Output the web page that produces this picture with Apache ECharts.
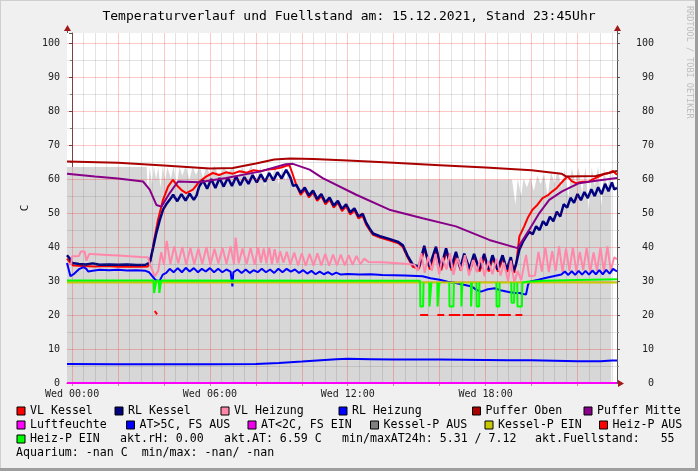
<!DOCTYPE html>
<html><head><meta charset="utf-8">
<script src="https://cdn.jsdelivr.net/npm/echarts@6/dist/echarts.min.js"></script>
<style>html,body{margin:0;padding:0;background:#f0f0f0}#c{width:698px;height:471px}</style>
</head><body><div id="c"></div>
<script>
const FONT = 'DejaVu Sans Mono';
const titleText = 'Temperaturverlauf und Fuellstand am: 15.12.2021, Stand 23:45Uhr';
const xLabelHours = [0, 6, 12, 18];
const xMin = -0.22, xMax = 23.72;

// [hour, value] series
const fillArea = [[-0.22,63.6],[3.25,63.6],[3.3,56],[3.38,63.5],[3.48,58.5],[3.56,63.8],[3.66,60],[3.75,63.5],[3.85,57.5],[3.95,63.9],[4.05,59.5],[4.15,63.4],[4.3,60.2],[4.42,63.8],[4.55,58.2],[4.68,63.5],[4.8,61],[4.95,63.9],[5.1,59.8],[5.25,63.6],[5.4,61.2],[5.55,63.8],[5.7,60.4],[5.85,63.5],[6.0,61.5],[6.2,63.9],[6.4,60.5],[6.6,63.4],[6.8,61.8],[7.0,63.8],[7.2,60],[7.4,63.5],[7.6,61.5],[7.8,63.9],[8.0,59.5],[8.2,63.6],[8.4,57.8],[8.55,63.2],[8.7,60.5],[8.85,63.6],[9.0,58.5],[9.15,63.2],[9.3,59.5],[9.45,62.5],[9.6,60.0],[19.0,59.8],[19.15,59.9],[19.3,52.5],[19.4,60],[19.55,55],[19.65,60.2],[19.8,57.5],[19.95,60.5],[20.1,56.5],[20.25,61],[20.4,58.5],[20.55,61.5],[20.7,55],[20.85,62],[21.0,58.8],[21.15,62.5],[21.3,57.5],[21.45,63],[21.6,54.5],[21.75,63.2],[21.9,59],[22.05,63.5],[22.2,55.8],[22.35,63.6],[22.5,50.5],[22.62,63.5],[22.75,58],[22.9,63.8],[23.05,52],[23.15,63.5],[23.3,57],[23.47,63.5]];

const vlKessel = [[-0.22,36.6],[-0.1,35.6],[0.05,34.6],[0.5,34.4],[1,34.3],[1.5,34.4],[2,34.2],[2.5,34.3],[3,34.2],[3.3,34.3],[3.42,36.0],[3.55,41.2],[3.74,48.0],[3.96,53.9],[4.18,57.8],[4.39,59.8],[4.61,57.8],[4.8,56.6],[4.97,55.9],[5.26,56.9],[5.55,59.3],[5.85,60.8],[6.13,61.8],[6.4,61.2],[6.7,62.0],[7.0,61.6],[7.3,62.3],[7.6,61.9],[7.9,62.6],[8.2,62.3],[8.5,62.8],[8.8,63.0],[9.1,63.4],[9.46,64.2],[9.6,61.5],[9.75,58.5],[9.95,55.4],[10.13,56.9],[10.31,54.6],[10.49,56.0],[10.67,53.6],[10.85,55.0],[11.03,52.6],[11.21,54.0],[11.39,51.6],[11.57,53.0],[11.75,50.6],[11.93,52.0],[12.11,49.6],[12.29,50.8],[12.47,48.4],[12.65,49.2],[12.8,46.6],[12.95,45.0],[13.1,43.6],[13.4,42.8],[13.8,42.0],[14.2,41.1],[14.4,40.0],[14.6,37.0],[14.83,34.2],[15.1,33.6],[15.35,39.6],[15.57,33.4],[15.86,39.3],[16.07,33.2],[16.3,38.8],[16.52,33.1],[16.73,37.8],[16.92,33.0],[17.09,37.3],[17.32,32.9],[17.52,37.2],[17.74,32.8],[17.96,37.2],[18.14,32.8],[18.32,36.8],[18.54,32.8],[18.76,36.8],[18.94,32.7],[19.12,36.2],[19.25,32.4],[19.35,36.0],[19.47,43.1],[19.68,46.1],[19.85,48.8],[20.04,51.0],[20.25,52.4],[20.48,54.4],[20.7,55.2],[20.91,56.4],[21.1,57.4],[21.35,59.3],[21.57,60.8],[21.75,59.4],[21.93,58.8],[22.2,59.2],[22.5,59.3],[22.75,60.2],[22.95,60.8],[23.15,61.5],[23.38,61.8],[23.55,62.4],[23.72,61.3]];

const rlKessel = [[-0.22,37.6],[-0.12,36.8],[0.0,35.3],[0.3,35.0],[0.6,34.9],[0.9,35.2],[1.2,34.8],[1.6,34.9],[2.0,34.8],[2.4,34.9],[2.8,34.7],[3.2,34.8],[3.38,35.4],[3.52,39.5],[3.67,44.2],[3.82,48.0],[3.96,51.0],[4.1,52.6],[4.25,53.9],[4.4,55.4],[4.58,53.5],[4.76,55.6],[4.94,53.7],[5.12,55.7],[5.3,53.9],[5.42,55.2],[5.53,57.8],[5.7,59.6],[5.88,57.2],[6.06,60.0],[6.24,57.4],[6.42,60.3],[6.6,57.8],[6.78,60.4],[6.96,58.0],[7.14,60.8],[7.32,58.2],[7.5,60.6],[7.68,58.6],[7.86,61.2],[8.04,59.0],[8.22,61.4],[8.4,59.2],[8.58,61.8],[8.76,59.6],[8.94,62.0],[9.12,60.2],[9.32,62.7],[9.5,60.5],[9.62,58.0],[9.76,58.3],[9.95,56.0],[10.13,57.5],[10.31,55.2],[10.49,56.6],[10.67,54.2],[10.85,55.6],[11.03,53.2],[11.21,54.6],[11.39,52.2],[11.57,53.6],[11.75,51.2],[11.93,52.6],[12.11,50.2],[12.29,51.4],[12.47,49.0],[12.65,49.8],[12.8,47.2],[12.95,45.5],[13.1,44.0],[13.4,43.2],[13.8,42.4],[14.2,41.5],[14.4,40.5],[14.6,37.5],[14.83,34.8],[15.1,34.3],[15.33,40.4],[15.55,34.2],[15.84,40.1],[16.05,34.0],[16.28,39.6],[16.5,33.9],[16.71,38.6],[16.9,33.8],[17.07,38.1],[17.3,33.6],[17.5,38.0],[17.72,33.5],[17.94,38.0],[18.12,33.4],[18.3,37.6],[18.52,33.4],[18.74,37.6],[18.92,33.4],[19.1,37.0],[19.2,32.8],[19.32,34.8],[19.47,39.2],[19.62,41.5],[19.76,43.1],[19.9,44.5],[20.05,43.8],[20.2,46.1],[20.35,45.0],[20.5,47.6],[20.65,46.4],[20.8,48.9],[20.95,47.6],[21.1,50.4],[21.25,49.0],[21.4,52.6],[21.55,51.6],[21.7,54.5],[21.85,53.0],[22.0,55.6],[22.15,53.8],[22.3,56.2],[22.45,54.4],[22.6,57.0],[22.75,55.0],[22.9,57.6],[23.05,55.6],[23.2,58.6],[23.35,56.4],[23.5,59.0],[23.6,57.0],[23.72,57.4]];

const vlHeizung = [[-0.22,34.9],[-0.04,35.0],[0.0,37.3],[0.3,37.4],[0.38,38.7],[0.55,38.7],[0.62,36.0],[0.75,38.0],[1.0,37.9],[1.5,37.7],[2.0,37.5],[2.5,37.3],[3.0,37.1],[3.3,37.0],[3.4,34.8],[3.6,31.4],[3.75,33.0],[3.88,38.5],[4.0,34.8],[4.12,41.8],[4.28,35.0],[4.45,40.2],[4.62,35.2],[4.8,40.0],[4.97,34.8],[5.15,39.8],[5.32,34.9],[5.5,39.6],[5.67,35.0],[5.85,40.0],[6.02,34.8],[6.2,39.5],[6.37,35.2],[6.55,39.8],[6.72,35.0],[6.9,40.2],[7.05,34.9],[7.12,42.8],[7.25,35.2],[7.42,39.6],[7.6,35.0],[7.77,39.8],[7.95,34.8],[8.1,40.0],[8.22,35.4],[8.34,39.6],[8.46,35.2],[8.58,40.0],[8.7,35.0],[8.82,39.4],[8.94,35.2],[9.06,38.8],[9.2,35.4],[9.35,38.6],[9.5,34.8],[9.67,38.4],[9.84,34.6],[10.0,38.2],[10.17,34.5],[10.34,38.0],[10.51,34.5],[10.68,38.2],[10.85,34.6],[11.02,38.0],[11.19,34.5],[11.36,37.8],[11.53,34.6],[11.7,37.8],[11.87,34.6],[12.04,37.6],[12.21,34.8],[12.38,37.4],[12.55,35.0],[12.72,36.6],[12.9,35.6],[13.5,35.5],[14.0,35.3],[14.5,35.1],[14.9,34.8],[15.05,33.0],[15.2,38.2],[15.35,32.4],[15.5,37.2],[15.66,33.0],[15.82,38.0],[15.98,32.0],[16.12,37.0],[16.3,33.4],[16.45,38.2],[16.6,31.8],[16.78,36.8],[16.95,33.0],[17.1,37.6],[17.28,31.6],[17.45,36.2],[17.62,32.6],[17.8,37.0],[17.95,31.4],[18.12,35.8],[18.3,32.0],[18.48,36.6],[18.65,31.6],[18.8,35.4],[18.98,30.0],[19.1,36.0],[19.25,29.6],[19.4,33.0],[19.55,30.2],[19.76,37.7],[19.9,31.4],[20.15,31.6],[20.3,38.6],[20.45,32.8],[20.6,40.0],[20.75,32.6],[20.9,38.8],[21.05,33.0],[21.2,40.2],[21.35,32.6],[21.5,39.6],[21.65,33.0],[21.8,40.0],[21.95,32.8],[22.1,38.6],[22.25,33.2],[22.4,39.8],[22.55,32.6],[22.7,38.4],[22.85,33.0],[23.0,39.8],[23.15,32.8],[23.3,40.2],[23.45,33.2],[23.6,37.0],[23.72,36.4]];

const rlHeizung = [[-0.22,35.3],[-0.07,31.4],[0.1,32.2],[0.3,33.5],[0.5,34.1],[0.62,33.6],[0.7,32.8],[0.9,33.0],[1.2,33.3],[1.6,33.2],[2.0,33.3],[2.4,33.1],[2.8,33.2],[3.2,33.0],[3.35,32.6],[3.5,31.4],[3.62,30.4],[3.8,29.9],[3.95,31.9],[4.1,32.4],[4.25,33.6],[4.42,32.6],[4.6,33.8],[4.78,32.6],[4.95,33.9],[5.12,32.8],[5.3,33.8],[5.48,32.6],[5.65,33.6],[5.82,32.8],[6.0,33.8],[6.18,32.6],[6.36,33.6],[6.54,32.6],[6.72,33.4],[6.9,32.8],[6.98,28.4],[7.02,32.6],[7.2,33.4],[7.38,32.4],[7.56,33.4],[7.74,32.4],[7.9,33.2],[8.08,32.6],[8.26,33.6],[8.44,32.6],[8.62,33.4],[8.8,32.4],[8.98,33.6],[9.16,32.6],[9.34,33.6],[9.52,32.8],[9.7,33.4],[9.88,32.4],[10.06,33.2],[10.24,32.2],[10.42,33.0],[10.6,32.0],[10.78,32.8],[10.96,32.0],[11.14,32.6],[11.32,31.9],[11.5,32.5],[11.7,31.9],[12.0,32.1],[12.5,31.9],[13.0,32.0],[13.5,31.8],[14.0,31.7],[14.5,31.6],[15.0,31.5],[15.26,31.4],[15.6,30.8],[16.0,30.4],[16.35,29.8],[16.7,29.4],[17.05,28.9],[17.4,28.4],[17.6,27.4],[17.8,26.9],[18.1,27.6],[18.4,27.9],[18.7,27.2],[19.0,26.8],[19.3,26.5],[19.47,26.5],[19.76,26.0],[19.85,29.0],[19.95,29.9],[20.3,30.4],[20.6,30.9],[20.95,31.4],[21.3,31.9],[21.45,32.8],[21.6,31.8],[21.75,32.9],[21.9,31.8],[22.05,33.0],[22.2,31.9],[22.35,33.0],[22.5,31.9],[22.65,33.1],[22.8,32.0],[22.95,33.2],[23.1,32.0],[23.25,33.3],[23.4,32.2],[23.55,33.6],[23.72,32.8]];

const pufferOben = [[-0.22,65.2],[2,64.8],[4,64.0],[6,63.1],[7,63.3],[8,64.6],[8.8,65.8],[9.5,66.1],[10.5,65.9],[12,65.5],[14,64.8],[16,64.1],[18,63.4],[20,62.6],[21.3,61.6],[21.5,60.8],[22.8,60.9],[23.2,61.6],[23.72,62.4]];

const pufferMitte = [[-0.22,61.6],[1,60.8],[2,60.2],[3.09,59.3],[3.38,56.9],[3.67,52.4],[3.89,51.9],[4.25,55.9],[4.61,59.3],[5.53,59.1],[6.71,60.3],[8.16,62.2],[9.3,64.4],[9.61,64.5],[10.34,62.8],[10.91,60.3],[12.37,55.4],[13.81,51.0],[15.26,48.5],[16.71,46.1],[18.16,42.1],[19.39,39.7],[19.47,39.5],[19.9,45.1],[20.34,50.0],[20.77,53.9],[21.33,56.4],[22.07,58.8],[22.81,59.5],[23.72,60.3]];

const luftfeuchte = [[-0.22,0],[23.72,0]];
const atAbove5 = [[-0.22,5.6],[2,5.5],[4,5.5],[6,5.5],[8,5.6],[9,5.9],[10,6.3],[11,6.8],[11.5,7.0],[12,7.1],[13,7.0],[14,6.9],[16,6.9],[18,6.8],[19,6.7],[20,6.7],[22,6.4],[23,6.4],[23.5,6.6],[23.72,6.6]];
const atBelow2 = [];
const kesselPAus = [];
const kesselPEin = [[-0.22,29.6],[23.72,29.6]];
const heizPAus = [[3.6,21.2],[3.7,20.2],[3.71,null],[15.15,20],[15.5,20],[15.51,null],[15.9,20],[16.2,20],[16.21,null],[16.4,20],[16.9,20],[16.91,null],[17.0,20],[17.5,20],[17.51,null],[17.6,20],[18.4,20],[18.41,null],[18.55,20],[19.1,20],[19.11,null],[19.3,20],[19.6,20]];
const heizPEin = [[-0.22,30.2],[3.55,30.2],[3.57,26.5],[3.65,26.5],[3.67,30.2],[3.78,30.2],[3.8,26.5],[3.86,26.5],[3.88,30.2],[15.15,30.1],[15.16,22.5],[15.28,22.5],[15.3,29.6],[15.31,null],[15.55,29.6],[15.56,22.5],[15.62,22.5],[15.64,29.6],[15.65,null],[15.9,29.6],[15.91,22.5],[15.97,22.5],[15.99,29.6],[16.0,null],[16.42,29.6],[16.43,22.5],[16.6,22.5],[16.62,29.6],[16.63,null],[16.94,29.6],[16.95,22.5],[16.98,22.5],[16.99,29.6],[17.0,null],[17.36,29.6],[17.37,22.5],[17.4,22.5],[17.41,29.6],[17.42,null],[17.6,29.6],[17.61,22.5],[17.72,22.5],[17.73,29.6],[17.74,null],[18.47,29.6],[18.48,22.5],[18.6,22.5],[18.61,29.6],[18.62,null],[19.12,29.6],[19.13,23.6],[19.24,23.6],[19.25,29.6],[19.26,null],[19.38,29.6],[19.39,22.5],[19.58,22.5],[19.6,29.6],[19.8,29.8],[20.5,30.1],[22,30.3],[23.72,30.5]];

const seriesDefs = [
  ['VL Kessel', vlKessel, '#ff0000', 2],
  ['RL Kessel', rlKessel, '#000080', 2.5],
  ['VL Heizung', vlHeizung, '#ff88aa', 2],
  ['RL Heizung', rlHeizung, '#0000ff', 2],
  ['Puffer Oben', pufferOben, '#aa0000', 2],
  ['Puffer Mitte', pufferMitte, '#880088', 2],
  ['Luftfeuchte', luftfeuchte, '#ff00ff', 2],
  ['AT>5C, FS AUS', atAbove5, '#0000ff', 2],
  ['AT<2C, FS EIN', atBelow2, '#ee00ee', 2],
  ['Kessel-P AUS', kesselPAus, '#808080', 2],
  ['Kessel-P EIN', kesselPEin, '#c8c800', 2],
  ['Heiz-P AUS', heizPAus, '#ff0000', 2],
  ['Heiz-P EIN', heizPEin, '#00ff00', 2]
];

// legend layout: name, left, top
const legendLayout = [
  ['VL Kessel',16.5,404],['RL Kessel',114.5,404],['VL Heizung',220.5,404],['RL Heizung',338.5,404],['Puffer Oben',472,404],['Puffer Mitte',583.5,404],
  ['Luftfeuchte',16.5,418],['AT>5C, FS AUS',126,418],['AT<2C, FS EIN',247.5,418],['Kessel-P AUS',370,418],['Kessel-P EIN',484.5,418],['Heiz-P AUS',599,418],
  ['Heiz-P EIN',16.5,432]
];
const infoTexts = [
  ['akt.rH: 0.00',120,439],['akt.AT: 6.59 C',224,439],['min/maxAT24h: 5.31 / 7.12',342,439],['akt.Fuellstand:   55',535,439],
  ['Aquarium: -nan C  min/max: -nan/ -nan',16,453]
];

const gridLines = [];
for (let h = 0.5; h < xMax; h += 0.5) {
  const major = Math.abs(h/2 - Math.round(h/2)) < 1e-6;
  gridLines.push({xAxis: h, lineStyle: {color: major ? 'rgba(255,0,0,0.22)' : 'rgba(90,90,90,0.17)', width: 1, type: 'solid'}});
}
gridLines.push({xAxis: 0, lineStyle: {color: 'rgba(255,0,0,0.22)', width: 1, type: 'solid'}});
for (let v = 5; v <= 100; v += 5) {
  const major = v % 10 === 0;
  gridLines.push({yAxis: v, lineStyle: {color: major ? 'rgba(255,0,0,0.22)' : 'rgba(90,90,90,0.17)', width: 1, type: 'solid'}});
}

const chart = echarts.init(document.getElementById('c'), null, {renderer: 'canvas'});
const series = [{
  name: 'Fuellstand', type: 'line', data: fillArea, showSymbol: false, z: 1,
  lineStyle: {width: 0}, areaStyle: {color: '#d7d7d7', opacity: 1}, itemStyle: {color: '#d7d7d7'}, silent: true
}, {
  name: 'grid', type: 'line', data: [], z: 2, silent: true,
  markLine: {silent: true, symbol: ['none', 'none'], label: {show: false}, animation: false, data: gridLines}
}];
seriesDefs.forEach(([name, data, color, w], i) => {
  series.push({name, type: 'line', data, showSymbol: false, color, z: 3 + i, connectNulls: false,
    lineStyle: {width: w, color}, itemStyle: {color}, silent: true});
});

const legends = legendLayout.map(([name, l, t]) => ({
  data: [name], left: l, top: t, orient: 'horizontal', padding: 0, itemGap: 0,
  icon: 'rect', itemWidth: 8, itemHeight: 8, selectedMode: false,
  itemStyle: {borderColor: '#000', borderWidth: 1},
  textStyle: {fontFamily: FONT, fontSize: 11.6, color: '#000', lineHeight: 14}
}));

const graphics = [
  {type: 'rect', shape: {x: 0, y: 0, width: 698, height: 471}, style: {fill: 'none', stroke: '#cfcfcf', lineWidth: 2}, silent: true, z: 100},
  {type: 'line', shape: {x1: 696.5, y1: 0, x2: 696.5, y2: 471}, style: {stroke: '#9e9e9e', lineWidth: 3}, z: 101},
  {type: 'line', shape: {x1: 0, y1: 469.5, x2: 698, y2: 469.5}, style: {stroke: '#9e9e9e', lineWidth: 3}, z: 101},
  {type: 'line', shape: {x1: 67.5, y1: 33, x2: 67.5, y2: 29}, style: {stroke: '#555', lineWidth: 1}, z: 50},
  {type: 'line', shape: {x1: 617.5, y1: 33, x2: 617.5, y2: 29}, style: {stroke: '#555', lineWidth: 1}, z: 50},
  {type: 'polygon', shape: {points: [[64, 31], [71, 31], [67.5, 25]]}, style: {fill: '#a01818'}, z: 51},
  {type: 'polygon', shape: {points: [[614, 31], [621, 31], [617.5, 25]]}, style: {fill: '#a01818'}, z: 51},
  {type: 'polygon', shape: {points: [[618, 380], [618, 387], [624, 383.5]]}, style: {fill: '#a01818'}, z: 51},
  {type: 'text', x: 689, y: 6, rotation: -Math.PI / 2, style: {text: 'RRDTOOL / TOBI OETIKER', fill: '#bdbdbd', font: '8.5px "DejaVu Sans Mono"', textAlign: 'left', textVerticalAlign: 'middle'}, z: 50}
];
infoTexts.forEach(([t, x, y]) => graphics.push({type: 'text', x, y, style: {text: t, fill: '#000', font: '11.6px "DejaVu Sans Mono"', textAlign: 'left', textVerticalAlign: 'middle'}, z: 50}));

const yAxisBase = {
  type: 'value', min: 0, max: 103, interval: 10,
  axisLine: {show: true, lineStyle: {color: '#555', width: 1}},
  axisTick: {show: true, length: 3, lineStyle: {color: '#555'}},
  minorTick: {show: true, splitNumber: 2, length: 2, lineStyle: {color: '#888'}},
  splitLine: {show: false},
  axisLabel: {showMaxLabel: false, fontFamily: FONT, fontSize: 10, color: '#222'}
};

chart.setOption({
  animation: false,
  backgroundColor: '#f0f0f0',
  title: {text: titleText, left: 'center', top: 10, padding: 0,
    textStyle: {fontFamily: FONT, fontSize: 13, fontWeight: 'normal', color: '#000'}},
  grid: {left: 67, right: 81, top: 33, bottom: 88, show: true, backgroundColor: '#fff', borderWidth: 0},
  xAxis: {
    type: 'value', min: xMin, max: xMax,
    axisLine: {show: true, onZero: false, lineStyle: {color: '#555', width: 1}},
    axisTick: {show: true, length: 3, customValues: [0,2,4,6,8,10,12,14,16,18,20,22], lineStyle: {color: '#d88'}},
    splitLine: {show: false},
    axisLabel: {customValues: xLabelHours, margin: 6, fontFamily: FONT, fontSize: 10, color: '#222',
      formatter: v => 'Wed ' + String(Math.round(v)).padStart(2, '0') + ':00'}
  },
  yAxis: [
    Object.assign({}, yAxisBase, {position: 'left', name: 'C', nameLocation: 'middle', nameGap: 25, nameRotate: 90,
      nameTextStyle: {fontFamily: FONT, fontSize: 11, color: '#222'}, axisLabel: Object.assign({}, yAxisBase.axisLabel, {margin: 7})}),
    Object.assign({}, yAxisBase, {position: 'right', axisLabel: Object.assign({}, yAxisBase.axisLabel, {margin: 37, align: 'right'})})
  ],
  legend: legends,
  graphic: graphics,
  series
});
</script></body></html>
